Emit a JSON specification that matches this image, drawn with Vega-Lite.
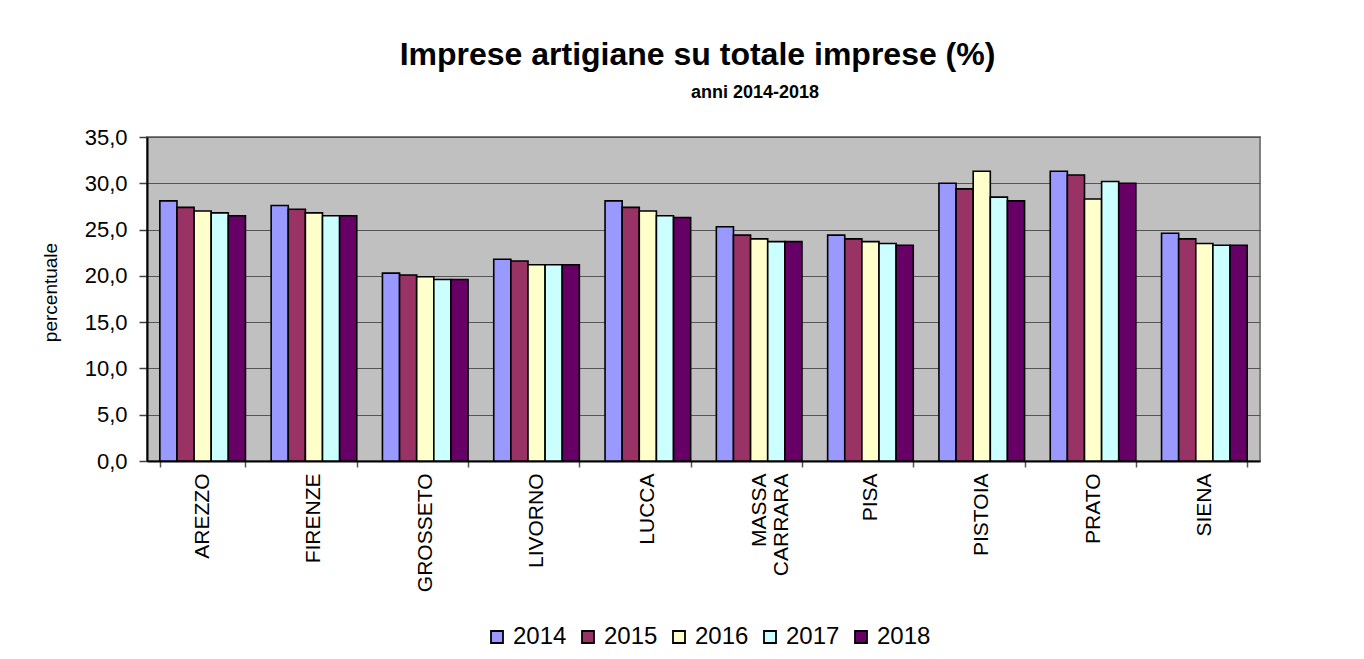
{
  "$schema": "https://vega.github.io/schema/vega-lite/v6.json",
  "width": 1113,
  "height": 324,
  "autosize": {"type": "none"},
  "padding": {"left": 147, "top": 137, "right": 104, "bottom": 198},
  "background": "white",
  "title": {
    "text": "Imprese artigiane su totale imprese (%)",
    "subtitle": "\u200b\u00a0\u00a0\u00a0\u00a0\u00a0\u00a0\u00a0\u00a0\u00a0\u00a0\u00a0\u00a0\u00a0\u00a0\u00a0\u00a0\u00a0\u00a0\u00a0\u00a0\u00a0\u00a0\u00a0anni 2014-2018",
    "anchor": "middle",
    "frame": "group",
    "dx": -6,
    "offset": 23,
    "font": "Liberation Sans",
    "fontSize": 32,
    "fontWeight": "bold",
    "color": "black",
    "subtitleFont": "Liberation Sans",
    "subtitleFontSize": 18,
    "subtitleFontWeight": "bold",
    "subtitleColor": "black",
    "subtitlePadding": 12
  },
  "data": {
    "values": [
      {"p": "AREZZO", "a": "2014", "v": 28.1}, {"p": "AREZZO", "a": "2015", "v": 27.4}, {"p": "AREZZO", "a": "2016", "v": 27.0}, {"p": "AREZZO", "a": "2017", "v": 26.8}, {"p": "AREZZO", "a": "2018", "v": 26.5},
      {"p": "FIRENZE", "a": "2014", "v": 27.6}, {"p": "FIRENZE", "a": "2015", "v": 27.2}, {"p": "FIRENZE", "a": "2016", "v": 26.8}, {"p": "FIRENZE", "a": "2017", "v": 26.5}, {"p": "FIRENZE", "a": "2018", "v": 26.5},
      {"p": "GROSSETO", "a": "2014", "v": 20.3}, {"p": "GROSSETO", "a": "2015", "v": 20.1}, {"p": "GROSSETO", "a": "2016", "v": 19.9}, {"p": "GROSSETO", "a": "2017", "v": 19.6}, {"p": "GROSSETO", "a": "2018", "v": 19.6},
      {"p": "LIVORNO", "a": "2014", "v": 21.8}, {"p": "LIVORNO", "a": "2015", "v": 21.6}, {"p": "LIVORNO", "a": "2016", "v": 21.2}, {"p": "LIVORNO", "a": "2017", "v": 21.2}, {"p": "LIVORNO", "a": "2018", "v": 21.2},
      {"p": "LUCCA", "a": "2014", "v": 28.1}, {"p": "LUCCA", "a": "2015", "v": 27.4}, {"p": "LUCCA", "a": "2016", "v": 27.0}, {"p": "LUCCA", "a": "2017", "v": 26.5}, {"p": "LUCCA", "a": "2018", "v": 26.3},
      {"p": "MASSA CARRARA", "a": "2014", "v": 25.3}, {"p": "MASSA CARRARA", "a": "2015", "v": 24.4}, {"p": "MASSA CARRARA", "a": "2016", "v": 24.0}, {"p": "MASSA CARRARA", "a": "2017", "v": 23.7}, {"p": "MASSA CARRARA", "a": "2018", "v": 23.7},
      {"p": "PISA", "a": "2014", "v": 24.4}, {"p": "PISA", "a": "2015", "v": 24.0}, {"p": "PISA", "a": "2016", "v": 23.7}, {"p": "PISA", "a": "2017", "v": 23.5}, {"p": "PISA", "a": "2018", "v": 23.3},
      {"p": "PISTOIA", "a": "2014", "v": 30.0}, {"p": "PISTOIA", "a": "2015", "v": 29.4}, {"p": "PISTOIA", "a": "2016", "v": 31.3}, {"p": "PISTOIA", "a": "2017", "v": 28.5}, {"p": "PISTOIA", "a": "2018", "v": 28.1},
      {"p": "PRATO", "a": "2014", "v": 31.3}, {"p": "PRATO", "a": "2015", "v": 30.9}, {"p": "PRATO", "a": "2016", "v": 28.3}, {"p": "PRATO", "a": "2017", "v": 30.2}, {"p": "PRATO", "a": "2018", "v": 30.0},
      {"p": "SIENA", "a": "2014", "v": 24.6}, {"p": "SIENA", "a": "2015", "v": 24.0}, {"p": "SIENA", "a": "2016", "v": 23.5}, {"p": "SIENA", "a": "2017", "v": 23.3}, {"p": "SIENA", "a": "2018", "v": 23.3}
    ]
  },
  "mark": {"type": "bar", "stroke": "black", "strokeWidth": 1.6, "strokeJoin": "miter"},
  "encoding": {
    "x": {
      "field": "p",
      "type": "nominal",
      "sort": null,
      "title": null,
      "scale": {"paddingInner": 0.2308, "paddingOuter": 0.1154},
      "axis": {
        "labelAngle": 270,
        "labelAlign": "right",
        "labelBaseline": "middle",
        "labelFont": "Liberation Sans",
        "labelFontSize": 21,
        "labelColor": "black",
        "labelPadding": 6,
        "labelLineHeight": 22,
        "labelExpr": "datum.value == 'MASSA CARRARA' ? ['MASSA', 'CARRARA'] : datum.value",
        "tickBand": "extent",
        "tickSize": 6,
        "tickColor": "#555555",
        "tickWidth": 1.5,
        "domainColor": "black",
        "domainWidth": 2,
        "grid": false
      }
    },
    "xOffset": {"field": "a", "type": "nominal", "sort": ["2014", "2015", "2016", "2017", "2018"]},
    "y": {
      "field": "v",
      "type": "quantitative",
      "title": "percentuale",
      "scale": {"domain": [0, 35], "nice": false},
      "axis": {
        "values": [0, 5, 10, 15, 20, 25, 30, 35],
        "labelExpr": "replace(format(datum.value, '.1f'), '.', ',')",
        "labelFont": "Liberation Sans",
        "labelFontSize": 22,
        "labelColor": "black",
        "labelPadding": 12,
        "tickSize": 8,
        "tickColor": "#404040",
        "tickWidth": 1.5,
        "domainColor": "black",
        "domainWidth": 2,
        "grid": true,
        "gridColor": "#555555",
        "gridWidth": 1.2,
        "titleFont": "Liberation Sans",
        "titleFontSize": 19,
        "titleFontWeight": "normal",
        "titleColor": "black",
        "titlePadding": 24,
        "titleY": 155
      }
    },
    "fill": {
      "field": "a",
      "type": "nominal",
      "title": null,
      "scale": {
        "domain": ["2014", "2015", "2016", "2017", "2018"],
        "range": ["#9999FF", "#993366", "#FFFFCC", "#CCFFFF", "#660066"]
      },
      "legend": {
        "orient": "none",
        "direction": "horizontal",
        "legendX": 338,
        "legendY": 488,
        "symbolType": "square",
        "symbolSize": 144,
        "symbolStrokeColor": "black",
        "symbolStrokeWidth": 1.8,
        "symbolOpacity": 1,
        "labelFont": "Liberation Sans",
        "labelFontSize": 24,
        "labelColor": "black",
        "labelOffset": 4,
        "columnPadding": 9,
        "padding": 0
      }
    }
  },
  "config": {
    "view": {"fill": "#C0C0C0", "stroke": "#808080", "strokeWidth": 2}
  }
}
